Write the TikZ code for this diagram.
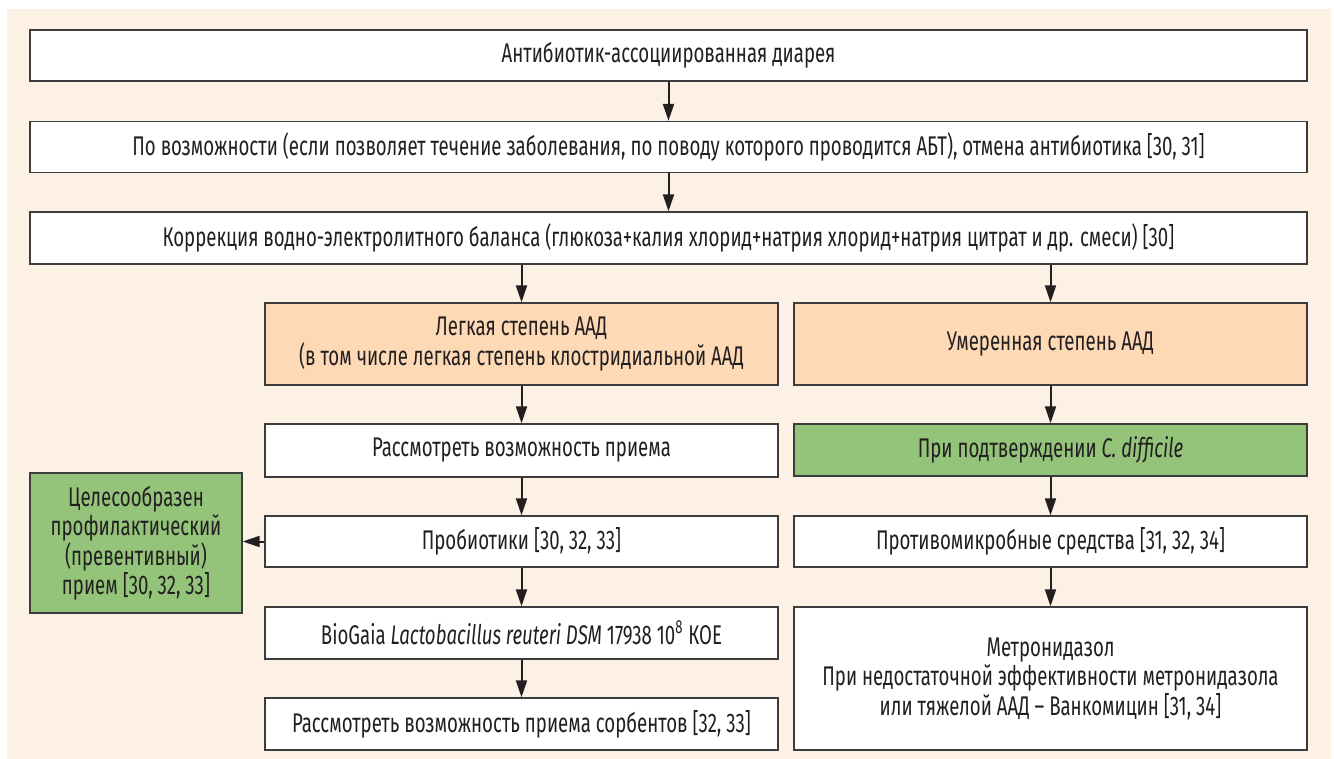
\documentclass[tikz,border=0pt]{standalone}
\usepackage{fontspec}
\setmainfont{Fira Sans}[FakeStretch=0.69]
\usetikzlibrary{arrows.meta}
\definecolor{bgcream}{HTML}{FDF0E4}
\definecolor{peach}{HTML}{FDD9B5}
\definecolor{leaf}{HTML}{93C47A}
\definecolor{edge}{HTML}{3C3C3C}
\definecolor{ink}{HTML}{231F20}

\begin{document}
\begin{tikzpicture}[x=0.5pt,y=-0.5pt,
  box/.style={draw=edge,line width=0.7pt,fill=white,text=ink,inner sep=0pt,
    align=center,font=\fontsize{13.5}{14.75}\selectfont},
  wide/.style={box,minimum width=638.5pt},
  col/.style={box,minimum width=256.5pt},
  flow/.style={-{Triangle[length=8.5pt,width=5.5pt]},line width=1pt,draw=ink}]
  \useasboundingbox (0,0) rectangle (1334,759);
  \fill[bgcream] (7,9) rectangle (1331,759);
  % top chain
  \node[wide,minimum height=25.5pt] (diar) at (668.5,55.5) {Антибиотик-ассоциированная диарея};
  \node[wide,minimum height=25.5pt] (stop) at (668.5,147) {По возможности (если позволяет течение заболевания, по поводу которого проводится АБТ), отмена антибиотика [30, 31]};
  \node[wide,minimum height=26pt] (rehyd) at (668.5,238) {Коррекция водно-электролитного баланса (глюкоза+калия хлорид+натрия хлорид+натрия цитрат и др. смеси) [30]};
  % left column
  \node[col,fill=peach,minimum height=41pt] (mild) at (521.5,344) {Легкая степень ААД\\(в том числе легкая степень клостридиальной ААД};
  \node[col,minimum height=26.5pt] (consid) at (521.5,450.5) {Рассмотреть возможность приема};
  \node[col,minimum height=25.5pt] (prob) at (521.5,541.5) {Пробиотики [30, 32, 33]};
  \node[col,minimum height=26pt] (biog) at (521.5,633) {BioGaia \textit{Lactobacillus reuteri DSM} 17938 10\textsuperscript{8} КОЕ};
  \node[col,minimum height=26pt] (sorb) at (521.5,724) {Рассмотреть возможность приема сорбентов [32, 33]};
  \node[box,fill=leaf,minimum width=106pt,minimum height=70pt] (prev) at (136,543) {Целесообразен\\профилактический\\(превентивный)\\прием [30, 32, 33]};
  % right column
  \node[col,fill=peach,minimum height=41pt] (moder) at (1050.5,344) {Умеренная степень ААД};
  \node[col,fill=leaf,minimum height=26pt] (cdiff) at (1050.5,450) {При подтверждении \textit{C.~difficile}};
  \node[col,minimum height=25.5pt] (antimic) at (1050.5,541.5) {Противомикробные средства [31, 32, 34]};
  \node[col,minimum height=71.5pt] (metro) at (1050.5,678.5) {Метронидазол\\При недостаточной эффективности метронидазола\\или тяжелой ААД – Ванкомицин [31, 34]};
  % arrows
  \draw[flow] (diar) -- (stop);
  \draw[flow] (stop) -- (rehyd);
  \draw[flow] (mild.north |- rehyd.south) -- (mild.north);
  \draw[flow] (moder.north |- rehyd.south) -- (moder.north);
  \draw[flow] (mild) -- (consid);
  \draw[flow] (consid) -- (prob);
  \draw[flow] (prob) -- (biog);
  \draw[flow] (biog) -- (sorb);
  \draw[flow] (prob.west) -- (prev.east |- prob.west);
  \draw[flow] (moder) -- (cdiff);
  \draw[flow] (cdiff) -- (antimic);
  \draw[flow] (antimic) -- (metro);
\end{tikzpicture}
\end{document}
